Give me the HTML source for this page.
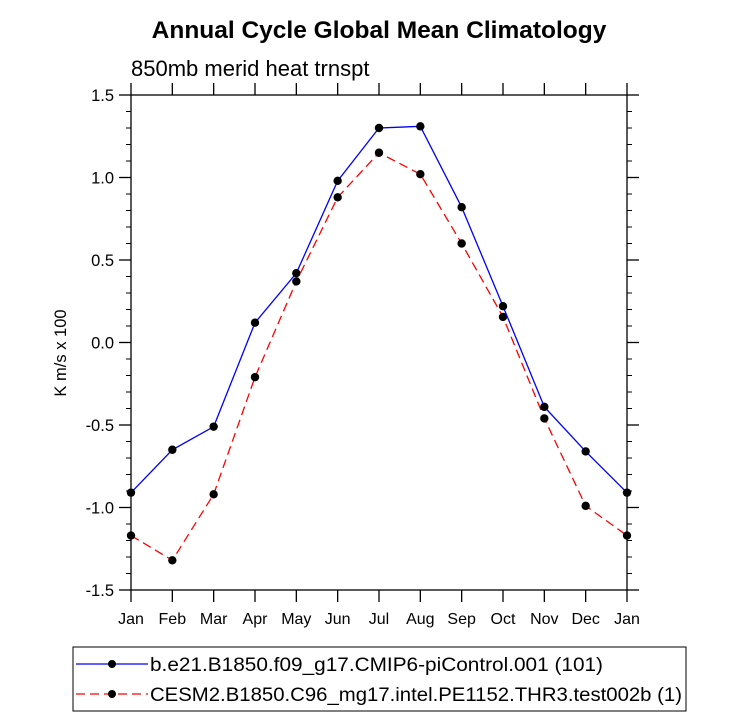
<!DOCTYPE html>
<html><head><meta charset="utf-8"><style>body{margin:0;background:#fff}svg{display:block}text{font-family:"Liberation Sans",sans-serif}</style></head>
<body>
<svg id="c" width="732" height="719" xmlns="http://www.w3.org/2000/svg">
<text x="379" y="38" text-anchor="middle" font-size="24.5" font-weight="bold">Annual Cycle Global Mean Climatology</text>
<text x="131" y="76" font-size="22">850mb merid heat trnspt</text>
<text transform="translate(66,353) rotate(-90)" text-anchor="middle" font-size="16.5">K m/s x 100</text>
<g id="axes"></g><g id="series"></g>
<rect x="73" y="647" width="613" height="64" fill="none" stroke="#000" stroke-width="1"/>
<g>
<line x1="76" y1="664" x2="148" y2="664" stroke="#0000ff" stroke-width="1.3"/><circle cx="112" cy="664" r="4" fill="#000"/>
<text x="150" y="671" font-size="19" textLength="453" lengthAdjust="spacingAndGlyphs">b.e21.B1850.f09_g17.CMIP6-piControl.001 (101)</text></g>
<g>
<line x1="76" y1="694" x2="148" y2="694" stroke="#ff0000" stroke-width="1.3" stroke-dasharray="9,5"/><circle cx="112" cy="694" r="4" fill="#000"/>
<text x="150" y="701" font-size="19" textLength="532" lengthAdjust="spacingAndGlyphs">CESM2.B1850.C96_mg17.intel.PE1152.THR3.test002b (1)</text></g>
</svg>
<script>
const months=["Jan","Feb","Mar","Apr","May","Jun","Jul","Aug","Sep","Oct","Nov","Dec","Jan"];
const blueValues=[-0.91,-0.65,-0.51,0.12,0.42,0.98,1.30,1.31,0.82,0.22,-0.39,-0.66,-0.91];
const redValues=[-1.17,-1.32,-0.92,-0.21,0.37,0.88,1.15,1.02,0.60,0.155,-0.46,-0.99,-1.17];
const yTicks=[-1.5,-1.0,-0.5,0.0,0.5,1.0,1.5];
const yTickLabels=["-1.5","-1.0","-0.5","0.0","0.5","1.0","1.5"];
const L=131,R=627,T=95,B=590,ymin=-1.5,ymax=1.5;
const xs=i=>L+(R-L)*i/(months.length-1);
const ys=v=>B-(v-ymin)/(ymax-ymin)*(B-T);
const NS="http://www.w3.org/2000/svg";
function mk(tag,attrs,parent){const e=document.createElementNS(NS,tag);for(const k in attrs)e.setAttribute(k,attrs[k]);parent.appendChild(e);return e;}
const ax=document.getElementById('axes');
const fr=mk('rect',{x:L,y:T,width:R-L,height:B-T,fill:'none',stroke:'#000','stroke-width':1.3},ax);


months.forEach((m,i)=>{const x=xs(i);
mk('line',{x1:x,y1:B,x2:x,y2:B+12,stroke:'#000','stroke-width':1.3},ax);
mk('line',{x1:x,y1:T,x2:x,y2:T-12,stroke:'#000','stroke-width':1.3},ax);
const t=mk('text',{x:x,y:B+34,'text-anchor':'middle','font-size':16},ax);t.textContent=m;

});
for(let v=ymin;v<=ymax+1e-9;v+=0.1){const y=ys(v);const major=Math.abs(v*2-Math.round(v*2))<1e-6;const len=major?12:5;
mk('line',{x1:L,y1:y,x2:L-len,y2:y,stroke:'#000','stroke-width':major?1.3:1},ax);
mk('line',{x1:R,y1:y,x2:R+len,y2:y,stroke:'#000','stroke-width':major?1.3:1},ax);}
yTicks.forEach((v,i)=>{const t=mk('text',{x:L-17,y:ys(v)+6,'text-anchor':'end','font-size':16.5},ax);t.textContent=yTickLabels[i];

});
const sg=document.getElementById('series');
function series(vals,color,dash,name){const g=mk('g',{},sg);


mk('polyline',{points:vals.map((v,i)=>xs(i)+','+ys(v)).join(' '),fill:'none',stroke:color,'stroke-width':1.3,'stroke-dasharray':dash},g);
vals.forEach((v,i)=>{const c=mk('circle',{cx:xs(i),cy:ys(v),r:4.2,fill:'#000'},g);

});}
series(redValues,'#ff0000','9,5','series-test002b');
series(blueValues,'#0000ff','none','series-piControl');
</script>
</body></html>
